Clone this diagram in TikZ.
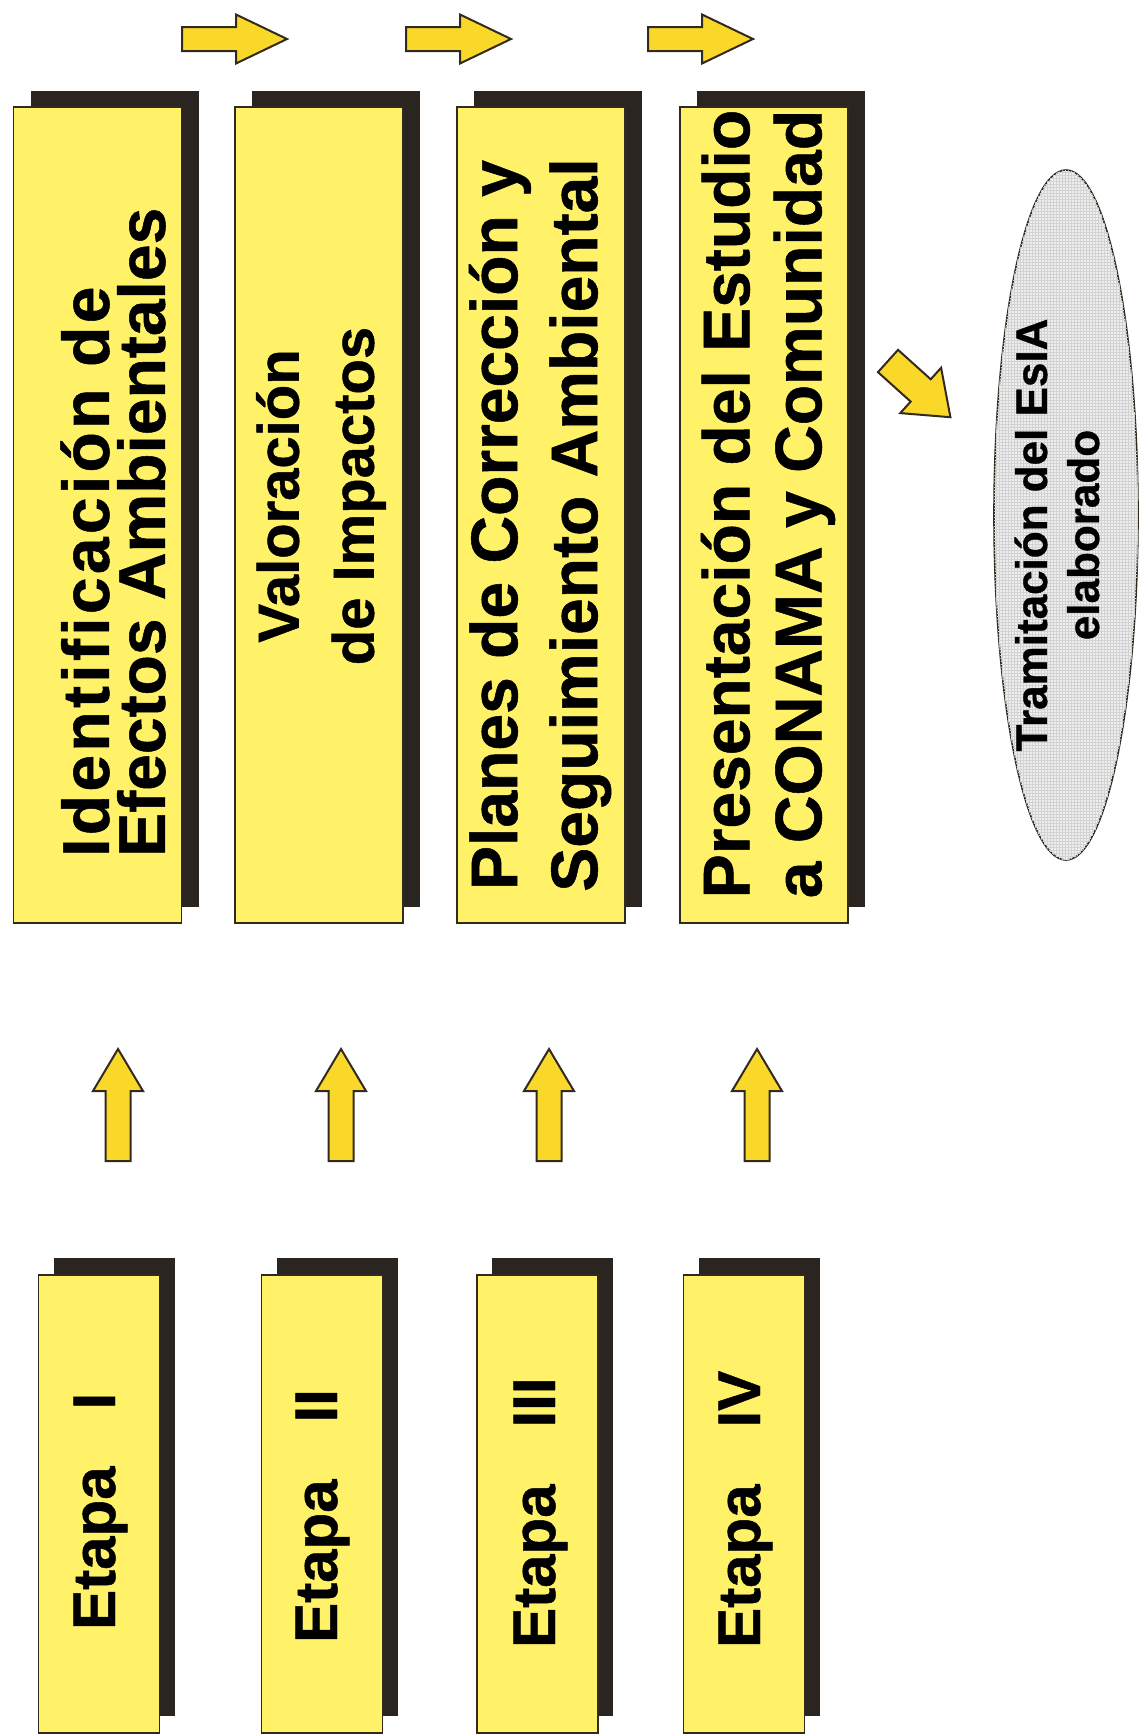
\documentclass[tikz,border=0pt]{standalone}
\usepackage{fontspec}
\setmainfont{Liberation Sans}[BoldFeatures={FakeBold=0.8}]
\usetikzlibrary{shapes.geometric,shadows,patterns}

\definecolor{boxfill}{RGB}{255,242,104}
\definecolor{arrowfill}{RGB}{250,216,42}
\definecolor{shadowc}{RGB}{42,37,32}
\definecolor{linec}{RGB}{50,42,30}
\definecolor{ovalfill}{RGB}{238,238,238}
\definecolor{ovalgrid}{RGB}{210,210,210}

\tikzset{
  bigbox/.style={draw=linec, line width=1.8pt, fill=boxfill, rectangle,
    minimum width=168pt, minimum height=816pt, inner sep=0pt,
    drop shadow={shadow xshift=17pt, shadow yshift=16pt, fill=shadowc, opacity=1}},
  stagebox/.style={draw=linec, line width=1.8pt, fill=boxfill, rectangle,
    minimum width=121pt, minimum height=458pt, inner sep=0pt,
    drop shadow={shadow xshift=15pt, shadow yshift=17pt, fill=shadowc, opacity=1}},
  bigtxt/.style={rotate=90, inner sep=0pt, text=black},
  stagetxt/.style={rotate=90, inner sep=0pt, anchor=base west, text=black,
    font=\fontsize{60}{66}\selectfont\bfseries},
  ovaltxt/.style={rotate=90, inner sep=0pt, align=center, text=black,
    font=\fontsize{44}{52}\selectfont\bfseries},
  blockarr/.style={draw=linec, line width=2pt, fill=arrowfill, line join=miter},
  % length, shaft half-width, shaft length, head half-width
  pics/blockarrow/.style n args={4}{code={
    \draw[blockarr] (0,-#2) -- (#3,-#2) -- (#3,-#4) -- (#1,0) -- (#3,#4) -- (#3,#2) -- (0,#2) -- cycle;
  }},
}

\begin{document}
\begin{tikzpicture}[x=1pt,y=-1pt]
\useasboundingbox (0,0) rectangle (1138,1735);
\fill[white] (0,0) rectangle (1138,1735);

% upper row: activity boxes
\node[bigbox] (b1) at (97.5,515) {};
\node[bigbox] (b2) at (319,515) {};
\node[bigbox] (b3) at (541,515) {};
\node[bigbox] (b4) at (764,515) {};

\node[bigtxt, align=left, anchor=west, font=\fontsize{66}{56}\selectfont\bfseries] (t1) at (113,857)
  {{\addfontfeature{LetterSpace=5}Identificación de}\\Efectos Ambientales};
\node[bigtxt, align=center, font=\fontsize{58}{75}\selectfont\bfseries] (t2) at (321,496)
  {Valoración\\de Impactos};
\node[bigtxt, align=center, font=\fontsize{66}{80}\selectfont\bfseries] (t3) at (540,525)
  {Planes de Corrección y\\Seguimiento Ambiental};
\node[bigtxt, align=center, font=\fontsize{66}{72}\selectfont\bfseries] (t4) at (768,504)
  {Presentación del Estudio\\a CONAMA y Comunidad};

% arrows between the activity boxes
\pic at (182,39) {blockarrow={105}{12}{54}{24.5}};
\pic at (406,39) {blockarrow={105}{12}{54}{24.5}};
\pic at (648,39) {blockarrow={105}{12}{54}{24.5}};

% arrow towards the processing step
\pic[rotate=-42] at (888,361) {blockarrow={84}{15}{44}{30.5}};

% processing step
\node[ellipse, draw=linec, line width=1.6pt, fill=ovalfill,
  postaction={pattern=grid, pattern color=ovalgrid},
  minimum width=144pt, minimum height=690pt, inner sep=0pt] (oval) at (1066,515) {};
\node[ovaltxt] (ot) at (1057,535) {Tramitación del EsIA\\elaborado};

% stage arrows
\pic[rotate=90] at (118,1161) {blockarrow={112}{12.5}{70}{25}};
\pic[rotate=90] at (341,1161) {blockarrow={112}{12.5}{70}{25}};
\pic[rotate=90] at (549,1161) {blockarrow={112}{12.5}{70}{25}};
\pic[rotate=90] at (757,1161) {blockarrow={112}{12.5}{70}{25}};

% lower row: stages
\node[stagebox] (s1) at (99,1504) {};
\node[stagebox] (s2) at (322,1504) {};
\node[stagebox] (s3) at (537.5,1504) {};
\node[stagebox] (s4) at (744,1504) {};

\node[stagetxt] (e1) at (115,1630) {Etapa\hspace{0.95em}I};
\node[stagetxt] (e2) at (337,1643) {Etapa\hspace{0.95em}II};
\node[stagetxt] (e3) at (555,1648) {Etapa\hspace{0.95em}III};
\node[stagetxt] (e4) at (760,1648) {Etapa\hspace{0.95em}IV};
\end{tikzpicture}
\end{document}
